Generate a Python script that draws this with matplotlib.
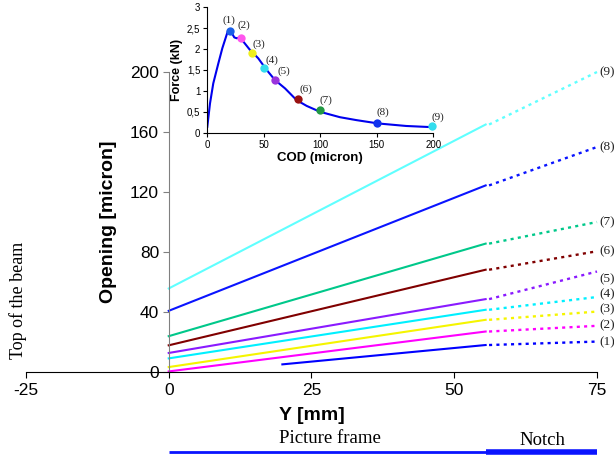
import numpy as np
import matplotlib
matplotlib.use("Agg")
import matplotlib.pyplot as plt
from matplotlib.ticker import FuncFormatter

plt.rcParams['font.family'] = ['Liberation Sans', 'DejaVu Sans']
plt.rcParams['axes.unicode_minus'] = False

# opening profiles along the beam height, states (1)..(9)
states = ['(1)', '(2)', '(3)', '(4)', '(5)', '(6)', '(7)', '(8)', '(9)']
y_start = [19.9, 0, 0, 0, 0, 0, 0, 0, 0]
open_start = [5.1, 0.4, 3.3, 9.1, 12.7, 17.8, 23.9, 40.8, 55.7]
y_notch = 55.5
open_notch = [18.0, 27.0, 34.8, 41.5, 48.6, 68.2, 85.6, 124.4, 165.0]
y_end = 75
open_end = [20.3, 30.8, 40.3, 50.0, 67.0, 80.5, 100.0, 150.0, 200.0]
label_y = [20, 31, 41.5, 51.5, 62, 80.5, 100, 150, 200]
line_colors = ['#0000ff', '#ff00ff', '#f5f500', '#00f0ff', '#8a1aff',
               '#800000', '#00c88a', '#0a14ff', '#60ffff']

# force - COD curve (inset)
cod = [0, 2.4, 5.3, 9.8, 13.3, 17.1, 18.6, 21, 23.9, 26, 28.9, 31.9, 37.8,
       45.1, 52.6, 59.9, 68.8, 79, 88, 99.7, 117.4, 132, 151.3, 176, 200]
force = [0.14, 0.7, 1.18, 1.66, 2.02, 2.34, 2.46, 2.42, 2.28, 2.26, 2.28, 2.18,
         1.98, 1.78, 1.50, 1.26, 1.06, 0.78, 0.64, 0.50, 0.37, 0.30, 0.22, 0.16, 0.13]
cod_pts = [20, 30, 40, 50, 60, 80, 100, 150, 199]
force_pts = [2.44, 2.26, 1.91, 1.54, 1.26, 0.80, 0.54, 0.24, 0.16]
pt_colors = ['#1a5fe8', '#ff55ee', '#f0f020', '#33ddee', '#9933dd',
             '#991111', '#229944', '#1133ee', '#33ddee']

fig = plt.figure(figsize=(6.14, 4.59), dpi=100)
ax = fig.add_axes([0.0423, 0.1895, 0.930, 0.6536])

for i in range(len(states)):
    ax.plot([y_start[i], y_notch], [open_start[i], open_notch[i]],
            color=line_colors[i], lw=1.5, clip_on=False)
    ax.plot([y_notch + 0.6, y_end], [open_notch[i], open_end[i]],
            color=line_colors[i], lw=1.7, ls=(0, (1.3, 1.8)), clip_on=False)
    ax.text(y_end + 0.4, label_y[i], states[i], family='Liberation Serif',
            fontsize=9.5, va='center', ha='left', color='#222222', clip_on=False)

ax.set_xlim(-25, 75)
ax.set_ylim(0, 200)
ax.set_xticks([-25, 0, 25, 50, 75])
ax.set_yticks([0, 40, 80, 120, 160, 200])
ax.spines['top'].set_visible(False)
ax.spines['right'].set_visible(False)
ax.spines['left'].set_position(('data', 0))
ax.spines['left'].set_color('#808080')
ax.spines['bottom'].set_color('black')
ax.tick_params(axis='both', direction='out', length=4, labelsize=12.5)
ax.tick_params(axis='y', colors='#808080', labelcolor='black', pad=3)
ax.tick_params(axis='x', pad=4)

ax.set_xlabel('Y [mm]', fontsize=14, fontweight='bold')
ax.xaxis.set_label_coords(0.5, -0.115)
ax.set_ylabel('Opening [micron]', fontsize=14, fontweight='bold')
ax.yaxis.set_label_coords(0.159, 0.5)

ax.text(-26.4, 48, 'Top of the beam', family='Liberation Serif', fontsize=13,
        rotation=90, ha='center', va='center', clip_on=False)

# beam zones under the x axis
tr = ax.get_xaxis_transform()
ax.plot([0, y_notch], [-0.266, -0.266], transform=tr, color='#0a14ff', lw=2,
        solid_capstyle='butt', clip_on=False)
ax.plot([y_notch, y_end], [-0.266, -0.266], transform=tr, color='#0a14ff', lw=4,
        solid_capstyle='butt', clip_on=False)
ax.text(28.2, -0.22, 'Picture frame', transform=tr, family='Liberation Serif',
        fontsize=13.5, ha='center', va='center')
ax.text(65.5, -0.227, 'Notch', transform=tr, family='Liberation Serif',
        fontsize=13.5, ha='center', va='center')

# inset: force vs COD
ins = fig.add_axes([0.3376, 0.711, 0.368, 0.273])
ins.plot(cod, force, color='#0000ee', lw=1.5)
offsets = [(-1, 11), (3, 13), (6, 9), (8, 8), (9, 9), (8, 10), (6, 10), (6, 10), (6, 9)]
for i in range(len(states)):
    ins.plot(cod_pts[i], force_pts[i], 'o', color=pt_colors[i], ms=6,
             mec='none', clip_on=False)
    ins.annotate(states[i], (cod_pts[i], force_pts[i]),
                 xytext=(offsets[i][0] * 0.72, offsets[i][1] * 0.72),
                 textcoords='offset points', family='Liberation Serif',
                 fontsize=8, ha='center', va='center', color='#222222')
ins.set_xlim(0, 200)
ins.set_ylim(0, 3)
ins.set_xticks([0, 50, 100, 150, 200])
ins.set_yticks([0, 0.5, 1, 1.5, 2, 2.5, 3])
ins.yaxis.set_major_formatter(FuncFormatter(lambda v, p: f"{v:g}".replace('.', ',')))
ins.spines['top'].set_visible(False)
ins.spines['right'].set_visible(False)
ins.tick_params(direction='out', length=3, labelsize=7, pad=2)
ins.set_xlabel('COD (micron)', fontsize=9.5, fontweight='bold')
ins.xaxis.set_label_coords(0.5, -0.152)
ins.set_ylabel('Force (kN)', fontsize=9, fontweight='bold')
ins.yaxis.set_label_coords(-0.106, 0.5)

fig.savefig('out.png', dpi=100)
